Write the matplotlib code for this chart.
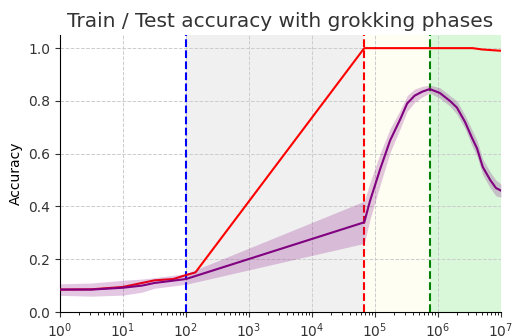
import numpy as np
import matplotlib.pyplot as plt

# log10(step) positions and values
train_logx = [0, 0.5, 1.0, 1.3, 1.5, 1.8, 2.0, 2.15, 4.83, 6.0, 6.55, 6.7, 7.0]
train_acc = [0.085, 0.086, 0.095, 0.11, 0.12, 0.125, 0.14, 0.15, 1.0, 1.0, 1.0, 0.995, 0.99]

test_logx = [0, 0.5, 1.0, 1.3, 1.5, 2.0, 4.83, 4.92, 5.08, 5.24, 5.40, 5.51, 5.63, 5.75,
             5.87, 6.03, 6.19, 6.30, 6.43, 6.54, 6.62, 6.71, 6.83, 6.92, 7.0]
test_acc = [0.085, 0.085, 0.092, 0.10, 0.11, 0.125, 0.34, 0.42, 0.54, 0.65, 0.73, 0.79, 0.82, 0.835,
            0.845, 0.83, 0.80, 0.775, 0.72, 0.66, 0.62, 0.55, 0.50, 0.47, 0.46]
test_std = [0.022, 0.025, 0.028, 0.025, 0.02, 0.02, 0.08, 0.07, 0.06, 0.045, 0.035, 0.03, 0.025, 0.02,
            0.015, 0.02, 0.02, 0.025, 0.025, 0.03, 0.03, 0.03, 0.03, 0.03, 0.025]

phase_edges = [1e2, 6.7e4, 7.5e5, 1e7]   # memorisation / circuit formation / cleanup
phase_colors = ['#f0f0f0', '#fefef3', '#d9f7d9']
line_colors = ['blue', 'red', 'green']

train_x = 10 ** np.array(train_logx)
test_x = 10 ** np.array(test_logx)
test_acc = np.array(test_acc)
test_std = np.array(test_std)

fig = plt.figure(figsize=(5.28, 3.36), dpi=100)
ax = fig.add_axes([0.1136, 0.0714, 0.8352, 0.8246])

for i in range(3):
    ax.axvspan(phase_edges[i], phase_edges[i + 1], color=phase_colors[i], zorder=0, lw=0)
for i in range(3):
    ax.axvline(phase_edges[i], color=line_colors[i], ls='--', lw=1.5, zorder=3)

ax.plot(train_x, train_acc, color='red', lw=1.5, zorder=4)
ax.fill_between(test_x, test_acc - test_std, test_acc + test_std, color='purple', alpha=0.22, lw=0, zorder=4)
ax.plot(test_x, test_acc, color='purple', lw=1.5, zorder=5)

ax.set_xscale('log')
ax.set_xlim(1, 1e7)
ax.set_ylim(0, 1.05)
ax.set_yticks([0, 0.2, 0.4, 0.6, 0.8, 1.0])
ax.grid(True, ls='--', color='#cccccc', lw=0.7, zorder=1)
ax.set_axisbelow(True)
ax.spines['top'].set_visible(False)
ax.spines['right'].set_visible(False)
ax.tick_params(labelsize=10, colors='#333333')
ax.set_ylabel('Accuracy', fontsize=10)
ax.set_title('Train / Test accuracy with grokking phases', fontsize=14.5, color='#333333')

fig.savefig('out.png', dpi=100)
